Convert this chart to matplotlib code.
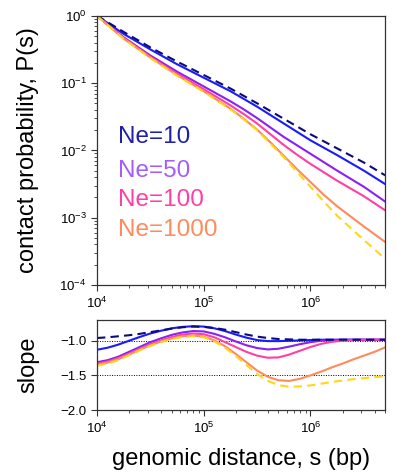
import numpy as np
import matplotlib
matplotlib.use("Agg")
import matplotlib.pyplot as plt
from matplotlib.ticker import LogLocator, NullFormatter, FixedLocator

plt.rcParams['font.family'] = ['Liberation Sans', 'DejaVu Sans']
plt.rcParams['mathtext.default'] = 'regular'

# ---------------- data ----------------
# top panel: log10 genomic distance and log10 contact probability
logs_top = [4.0, 4.25, 4.5, 4.75, 5.0, 5.25, 5.375, 5.5, 5.625, 5.75, 5.875, 6.0, 6.125, 6.25, 6.5, 6.7]
logP_ideal_dense = [0.0, -0.24, -0.47, -0.68, -0.88, -1.08, -1.19, -1.30, -1.415, -1.53, -1.645, -1.76, -1.865, -1.97, -2.18, -2.37]
logP_ne10 = [0.0, -0.27, -0.50, -0.72, -0.92, -1.12, -1.235, -1.35, -1.475, -1.60, -1.725, -1.85, -1.96, -2.07, -2.30, -2.50]
logP_ne50 = [0.0, -0.32, -0.59, -0.83, -1.05, -1.27, -1.39, -1.52, -1.66, -1.80, -1.925, -2.05, -2.175, -2.30, -2.54, -2.76]
logP_ne100 = [0.0, -0.33, -0.61, -0.86, -1.09, -1.33, -1.46, -1.60, -1.76, -1.92, -2.065, -2.20, -2.325, -2.45, -2.68, -2.89]
logP_ne1000 = [0.0, -0.34, -0.62, -0.88, -1.12, -1.38, -1.53, -1.69, -1.88, -2.08, -2.28, -2.47, -2.66, -2.83, -3.13, -3.36]
logP_ideal_free = [0.0, -0.345, -0.63, -0.89, -1.13, -1.39, -1.54, -1.70, -1.90, -2.10, -2.32, -2.54, -2.76, -2.97, -3.33, -3.61]

# bottom panel: local slope
logs_bot = [4.0, 4.1, 4.2, 4.3, 4.4, 4.5, 4.6, 4.7, 4.8, 4.9, 5.0, 5.1, 5.2, 5.3,
            5.4, 5.5, 5.6, 5.7, 5.8, 5.9, 6.0, 6.1, 6.2, 6.3, 6.4, 6.5, 6.6, 6.7]
slope_ideal_dense = [-0.96, -0.95, -0.935, -0.92, -0.90, -0.875, -0.85, -0.825, -0.805, -0.795,
                     -0.80, -0.815, -0.84, -0.875, -0.91, -0.94, -0.96, -0.975, -0.98, -0.985,
                     -0.985, -0.985, -0.985, -0.985, -0.985, -0.985, -0.985, -0.985]
slope_ne10 = [-1.13, -1.10, -1.055, -1.00, -0.945, -0.895, -0.855, -0.82, -0.80, -0.79,
              -0.795, -0.82, -0.86, -0.91, -0.955, -0.99, -1.005, -1.005, -1.0, -0.995,
              -0.99, -0.985, -0.985, -0.985, -0.985, -0.985, -0.985, -0.985]
slope_ne50 = [-1.31, -1.28, -1.23, -1.16, -1.09, -1.02, -0.965, -0.915, -0.88, -0.86,
              -0.865, -0.90, -0.95, -1.01, -1.065, -1.105, -1.125, -1.115, -1.085, -1.05,
              -1.02, -1.0, -0.99, -0.985, -0.985, -0.985, -0.985, -0.985]
slope_ne100 = [-1.33, -1.30, -1.25, -1.185, -1.115, -1.05, -0.995, -0.945, -0.91, -0.895,
               -0.905, -0.95, -1.02, -1.09, -1.16, -1.215, -1.245, -1.24, -1.20, -1.145,
               -1.09, -1.045, -1.015, -1.0, -0.99, -0.985, -0.985, -0.985]
slope_ne1000 = [-1.345, -1.315, -1.265, -1.20, -1.13, -1.065, -1.01, -0.965, -0.935, -0.925,
                -0.94, -0.995, -1.08, -1.19, -1.31, -1.43, -1.52, -1.57, -1.58, -1.55,
                -1.50, -1.445, -1.385, -1.33, -1.27, -1.215, -1.16, -1.095]
slope_ideal_free = [-1.36, -1.33, -1.28, -1.21, -1.14, -1.075, -1.02, -0.975, -0.945, -0.935,
                    -0.95, -1.01, -1.10, -1.22, -1.35, -1.48, -1.58, -1.64, -1.665, -1.66,
                    -1.645, -1.62, -1.595, -1.575, -1.555, -1.54, -1.525, -1.515]

labels = ['Ne=10', 'Ne=50', 'Ne=100', 'Ne=1000']
line_colors = ['#1a1aff', '#8c1ff5', '#ff3fa6', '#ff8a5c']
text_colors = ['#1f1fa8', '#a55cff', '#ff3fa6', '#ff8a5c']
dense_color = '#0c0c78'
free_color = '#ffd61a'

s_top = 10 ** np.array(logs_top)
s_bot = 10 ** np.array(logs_bot)
top_series = [logP_ne10, logP_ne50, logP_ne100, logP_ne1000]
bot_series = [slope_ne10, slope_ne50, slope_ne100, slope_ne1000]

# ---------------- figure ----------------
fig = plt.figure(figsize=(3.96, 4.74), dpi=100)
ax1 = fig.add_axes([0.245, 0.3987, 0.7273, 0.568])
ax2 = fig.add_axes([0.245, 0.135, 0.7273, 0.1899])

lw = 1.5
dash = (0, (4, 2.5))

# top panel
for ys, c in zip(top_series, line_colors):
    ax1.plot(s_top, 10 ** np.array(ys), color=c, lw=lw)
ax1.plot(s_top, 10 ** np.array(logP_ideal_dense), color=dense_color, lw=lw, ls=dash)
ax1.plot(s_top, 10 ** np.array(logP_ideal_free), color=free_color, lw=lw, ls=dash)
ax1.set_xscale('log')
ax1.set_yscale('log')
ax1.set_xlim(1e4, 5e6)
ax1.set_ylim(1e-4, 1)
ax1.set_ylabel('contact probability, P(s)', fontsize=17)
ax1.yaxis.set_major_locator(LogLocator(base=10, numticks=10))
ax1.yaxis.set_minor_locator(LogLocator(base=10, subs=np.arange(2, 10), numticks=20))
ax1.yaxis.set_minor_formatter(NullFormatter())

text_y = [0.55, 0.423, 0.316, 0.203]
for lab, c, ty in zip(labels, text_colors, text_y):
    ax1.text(0.073, ty, lab, color=c, fontsize=17.5, transform=ax1.transAxes,
             ha='left', va='center')

# bottom panel
ax2.axhline(-1.0, color='black', lw=0.7, ls=(0, (1, 1.5)))
ax2.axhline(-1.5, color='black', lw=0.7, ls=(0, (1, 1.5)))
for ys, c in zip(bot_series, line_colors):
    ax2.plot(s_bot, ys, color=c, lw=lw)
ax2.plot(s_bot, slope_ideal_dense, color=dense_color, lw=lw, ls=dash)
ax2.plot(s_bot, slope_ideal_free, color=free_color, lw=lw, ls=dash)
ax2.set_xscale('log')
ax2.set_xlim(1e4, 5e6)
ax2.set_ylim(-2.0, -0.7)
ax2.yaxis.set_major_locator(FixedLocator([-2.0, -1.5, -1.0]))
ax2.set_ylabel('slope', fontsize=17)
ax2.set_xlabel('genomic distance, s (bp)', fontsize=17, labelpad=9)

for ax in (ax1, ax2):
    ax.xaxis.set_major_locator(LogLocator(base=10, numticks=10))
    ax.xaxis.set_minor_locator(LogLocator(base=10, subs=np.arange(2, 10), numticks=20))
    ax.xaxis.set_minor_formatter(NullFormatter())
    ax.tick_params(which='major', length=4, width=0.8, labelsize=9.5, color='#333333')
    ax.tick_params(which='minor', length=2.2, width=0.6, color='#333333')
    for sp in ax.spines.values():
        sp.set_color('#333333')
        sp.set_linewidth(0.9)
    ax.yaxis.set_label_coords(-0.20, 0.5)

fig.savefig('out.png', dpi=100)
